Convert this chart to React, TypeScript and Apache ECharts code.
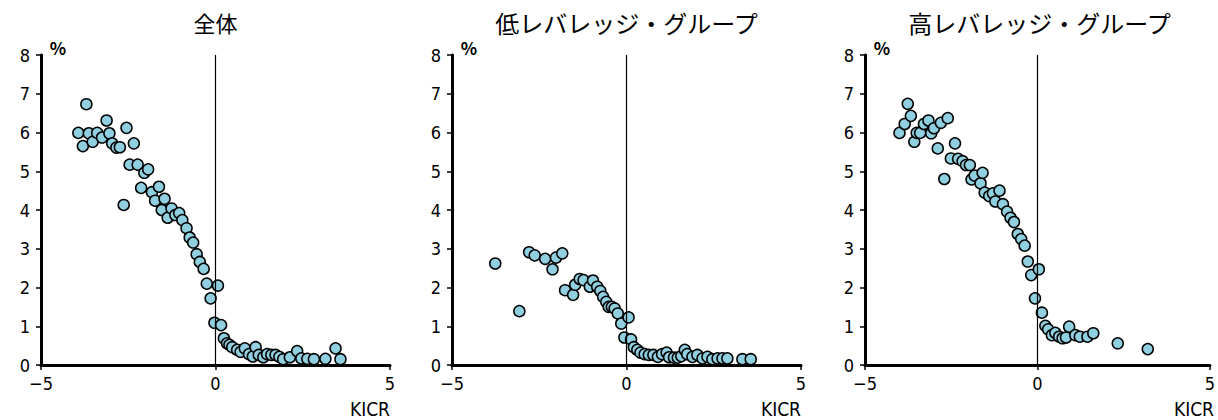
import React, { useEffect, useRef } from "react";
import * as echarts from "echarts";

// KICR (x) vs. rate in % (y), one scatter panel per group
const titles = ["全体", "低レバレッジ・グループ", "高レバレッジ・グループ"];
const titleSizes = [22, 24, 24];
const yTicks = [0, 1, 2, 3, 4, 5, 6, 7, 8];
const xTicks = [-5, 0, 5];

const allPoints: [number, number][] = [
  [-3.93, 5.99], [-3.8, 5.65], [-3.7, 6.73], [-3.63, 5.98], [-3.52, 5.76], [-3.39, 5.99],
  [-3.25, 5.87], [-3.12, 6.31], [-3.04, 5.98], [-2.96, 5.72], [-2.84, 5.61], [-2.74, 5.62],
  [-2.63, 4.13], [-2.55, 6.12], [-2.46, 5.17], [-2.34, 5.72], [-2.23, 5.17], [-2.13, 4.57],
  [-2.04, 4.96], [-1.93, 5.05], [-1.82, 4.46], [-1.73, 4.24], [-1.62, 4.6], [-1.54, 4.0],
  [-1.46, 4.29], [-1.37, 3.8], [-1.26, 4.04], [-1.15, 3.87], [-1.04, 3.92], [-0.95, 3.74],
  [-0.83, 3.53], [-0.74, 3.29], [-0.64, 3.16], [-0.54, 2.86], [-0.45, 2.66], [-0.34, 2.48],
  [-0.25, 2.1], [-0.14, 1.72], [0.07, 2.05], [-0.03, 1.09], [0.16, 1.03], [0.24, 0.69],
  [0.33, 0.56], [0.4, 0.52], [0.48, 0.46], [0.62, 0.39], [0.72, 0.34], [0.84, 0.43],
  [0.96, 0.28], [1.07, 0.22], [1.15, 0.46], [1.24, 0.26], [1.37, 0.2], [1.48, 0.28],
  [1.6, 0.26], [1.72, 0.26], [1.83, 0.21], [1.94, 0.15], [2.13, 0.2], [2.34, 0.36],
  [2.46, 0.17], [2.63, 0.16], [2.82, 0.15], [3.15, 0.16], [3.44, 0.43], [3.58, 0.15],
];

const lowLeveragePoints: [number, number][] = [
  [-3.76, 2.62], [-3.07, 1.39], [-2.79, 2.91], [-2.63, 2.83], [-2.33, 2.74], [-2.12, 2.47],
  [-2.02, 2.77], [-1.84, 2.88], [-1.76, 1.93], [-1.53, 1.81], [-1.47, 2.07], [-1.34, 2.22],
  [-1.23, 2.19], [-1.05, 2.02], [-0.96, 2.18], [-0.84, 2.02], [-0.75, 1.91], [-0.67, 1.76],
  [-0.58, 1.63], [-0.51, 1.5], [-0.42, 1.5], [-0.34, 1.46], [-0.25, 1.33], [-0.15, 1.07],
  [0.06, 1.23], [-0.06, 0.71], [0.13, 0.66], [0.21, 0.46], [0.31, 0.39], [0.4, 0.32],
  [0.52, 0.28], [0.64, 0.26], [0.77, 0.26], [0.9, 0.21], [1.02, 0.28], [1.15, 0.32],
  [1.22, 0.2], [1.36, 0.19], [1.47, 0.19], [1.57, 0.23], [1.67, 0.39], [1.74, 0.28],
  [1.89, 0.21], [2.03, 0.26], [2.18, 0.17], [2.32, 0.21], [2.46, 0.15], [2.61, 0.17],
  [2.75, 0.17], [2.89, 0.17], [3.32, 0.15], [3.56, 0.15],
];

const highLeveragePoints: [number, number][] = [
  [-4.0, 5.99], [-3.85, 6.22], [-3.76, 6.74], [-3.67, 6.43], [-3.57, 5.76], [-3.5, 5.99],
  [-3.4, 5.99], [-3.29, 6.22], [-3.16, 6.31], [-3.08, 5.98], [-3.0, 6.11], [-2.89, 5.59],
  [-2.8, 6.25], [-2.7, 4.8], [-2.6, 6.37], [-2.51, 5.33], [-2.39, 5.72], [-2.3, 5.32],
  [-2.17, 5.26], [-2.07, 5.16], [-1.96, 5.16], [-1.91, 4.79], [-1.82, 4.89], [-1.65, 4.69],
  [-1.59, 4.96], [-1.53, 4.45], [-1.4, 4.36], [-1.29, 4.43], [-1.22, 4.22], [-1.1, 4.5],
  [-1.0, 4.15], [-0.88, 3.96], [-0.78, 3.8], [-0.68, 3.69], [-0.57, 3.38], [-0.47, 3.25],
  [-0.37, 3.08], [-0.28, 2.67], [-0.18, 2.32], [0.04, 2.47], [-0.07, 1.72], [0.13, 1.35],
  [0.23, 1.01], [0.31, 0.92], [0.42, 0.77], [0.52, 0.83], [0.63, 0.73], [0.73, 0.69],
  [0.83, 0.71], [0.92, 0.99], [1.1, 0.77], [1.23, 0.73], [1.45, 0.73], [1.62, 0.82],
  [2.33, 0.56], [3.2, 0.41],
];

const panels = [allPoints, lowLeveragePoints, highLeveragePoints];
const FONT = '"Noto Sans CJK JP", "Noto Sans", sans-serif';
const NARROW = '"Liberation Sans Narrow", "DejaVu Sans Condensed", "Noto Sans", sans-serif';
const gridLeft = [41, 452, 865];
const gridWidth = 349;
const gridTop = 55;
const gridHeight = 310;

export default function App() {
  const ref = useRef<HTMLDivElement>(null);

  useEffect(() => {
    if (!ref.current) return;
    const chart = echarts.init(ref.current, undefined, { renderer: "svg" });

    const grids = gridLeft.map((left) => ({
      left,
      top: gridTop,
      width: gridWidth,
      height: gridHeight,
      containLabel: false,
    }));

    const xAxes = panels.map((_, i) => ({
      type: "value",
      gridIndex: i,
      min: xTicks[0],
      max: xTicks[xTicks.length - 1],
      interval: 5,
      axisLine: { show: true, onZero: false, lineStyle: { color: "#000", width: 3 } },
      axisTick: { show: true, inside: false, length: 5, lineStyle: { color: "#000", width: 1.5 } },
      splitLine: { show: false },
      axisLabel: {
        color: "#000",
        fontSize: 18,
        fontFamily: NARROW,
        margin: 9,
        formatter: (v: number) => (v < 0 ? "\u2212" + Math.abs(v) : String(v)),
      },
    }));

    const yAxes = panels.map((_, i) => ({
      type: "value",
      gridIndex: i,
      min: yTicks[0],
      max: yTicks[yTicks.length - 1],
      interval: 1,
      axisLine: { show: true, onZero: false, lineStyle: { color: "#000", width: 3 } },
      axisTick: { show: true, inside: false, length: 5, lineStyle: { color: "#000", width: 1.5 } },
      splitLine: { show: false },
      axisLabel: { color: "#000", fontSize: 18, fontFamily: NARROW, margin: 11 },
    }));

    const series = panels.map((pts, i) => ({
      type: "scatter",
      xAxisIndex: i,
      yAxisIndex: i,
      data: pts,
      symbol: "circle",
      symbolSize: 11,
      itemStyle: { color: "#8fcfdf", borderColor: "#000", borderWidth: 1.5, opacity: 1 },
      markLine: {
        silent: true,
        symbol: "none",
        label: { show: false },
        lineStyle: { color: "#000", width: 1.2, type: "solid" },
        data: [{ xAxis: 0 }],
      },
    }));

    const graphics: any[] = [];
    gridLeft.forEach((left, i) => {
      graphics.push({
        type: "text",
        x: left + gridWidth / 2,
        y: 22,
        style: {
          text: titles[i],
          fill: "#000",
          fontSize: titleSizes[i],
          fontFamily: FONT,
          textAlign: "center",
          textVerticalAlign: "middle",
        },
      });
      graphics.push({
        type: "text",
        x: left + 17,
        y: 47,
        style: {
          text: "%",
          fill: "#000",
          fontSize: 17,
          fontWeight: "bold",
          fontFamily: FONT,
          textAlign: "center",
          textVerticalAlign: "middle",
        },
      });
      graphics.push({
        type: "text",
        x: left + gridWidth,
        y: 409,
        style: {
          text: "KICR",
          fill: "#000",
          fontSize: 19,
          fontFamily: NARROW,
          textAlign: "right",
          textVerticalAlign: "middle",
        },
      });
    });

    chart.setOption({
      animation: false,
      backgroundColor: "#fff",
      grid: grids,
      xAxis: xAxes,
      yAxis: yAxes,
      series,
      graphic: graphics,
    });

    return () => chart.dispose();
  }, []);

  return (
    <div
      ref={ref}
      style={{ position: "fixed", left: 0, top: 0, width: 1218, height: 420, background: "#fff" }}
    />
  );
}
